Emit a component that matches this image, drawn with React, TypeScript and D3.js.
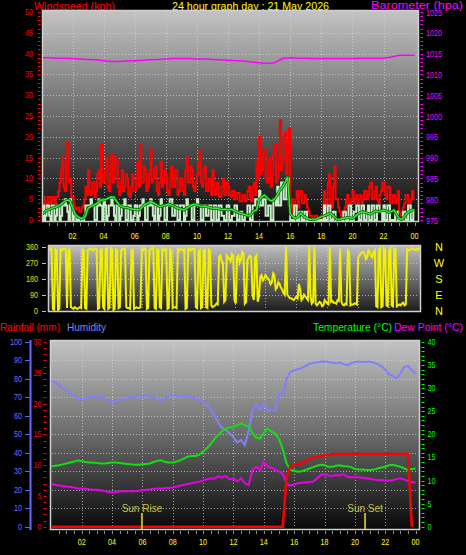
import React from 'react';
import * as d3 from 'd3';

// ---------- DATA ----------
const TITLE = '24 hour graph day : 21 May 2026';
const HOUR_LABELS = ['02', '04', '06', '08', '10', '12', '14', '16', '18', '20', '22', '00'];
const HOUR_LABEL_POS = [2, 4, 6, 8, 10, 12, 14, 16, 18, 20, 22, 24];

// wind gust (kph), 5-minute samples
const GUST = [
  4, 3.5, 5.5, 4, 3.5, 5.5, 5.5, 4, 5.5, 5.5, 4, 5.5,
  5.5, 7, 9, 12, 15, 8, 7, 14, 18.5, 9, 10, 5.5,
  5.5, 3, 2.5, 3, 3, 2, 2, 3, 3.5, 5, 8, 6,
  12, 7, 6, 9, 9, 5.5, 7, 11, 12, 8, 18, 9,
  9, 12, 15, 8, 7, 13, 16, 9, 10, 15, 14, 8,
  6, 9, 12, 7, 8, 11, 10, 6, 5.5, 8, 11, 7,
  7, 10, 14, 8, 18, 9, 9, 13, 12, 7, 8, 11,
  17, 9, 10, 12, 13, 7, 6, 9, 14, 8, 9, 12,
  11, 7, 6, 10, 13, 8, 8, 12, 12, 6, 7, 10,
  10, 7, 6, 12, 15, 9, 9, 13, 12, 8, 7, 9,
  11, 14, 16.5, 9, 8, 12, 13, 7, 7, 10, 10, 6,
  12, 8, 6, 9, 9, 5.5, 5.5, 8, 10, 6, 6, 9,
  8, 6, 5.5, 7, 7, 5, 5, 6.5, 6.5, 4.5, 4.5, 6,
  6, 4.5, 5, 7, 8, 5, 4.5, 8, 9, 6, 14, 10,
  20, 11, 12, 16, 17, 10, 9, 14, 15, 8, 11, 16,
  18, 9, 10, 15, 24, 12, 14, 20, 21, 11, 16, 22,
  3, 5, 1, 2, 5, 7, 3, 6, 7, 4, 4, 6,
  5, 3, 2, 1, 1, 0.5, 0.5, 1, 1, 0.5, 0.5, 0.5,
  1, 0.5, 7, 3, 4, 9, 11, 4, 3, 8, 13, 5,
  5, 3, 2, 1, 1, 2, 3, 5, 6, 4, 4, 5,
  7, 4, 5, 6, 4, 5, 6, 4, 5, 7, 7, 5,
  6, 8, 9, 5, 5, 7, 8, 5, 4, 6, 7, 9,
  9, 6, 5, 8, 8, 4, 4, 6, 6, 4, 5, 7,
  2, 1, 1, 3, 4, 6, 6, 3, 3, 5, 7, 5,
  5,
];

// wind speed (kph), 5-minute samples
const SPEED = [
  3, 3.5, 0, 1, 3.5, 3.5, 1, 0, 3.5, 3.5, 0, 1,
  3.5, 3.5, 0, 1, 3.5, 3.5, 5, 3.5, 2, 0, 5, 3.5,
  0, 1, 1, 0, 0, 0.5, 0.5, 0, 0, 1, 3.5, 3.5,
  3.5, 3.5, 5, 3.5, 3.5, 0, 0, 3.5, 5, 3.5, 3.5, 0,
  5, 3.5, 0, 1, 3.5, 3.5, 5, 3.5, 1, 0, 3.5, 3.5,
  0, 1, 3.5, 3.5, 5, 0, 0, 3.5, 3.5, 0, 0, 1,
  3.5, 3.5, 0, 1, 3.5, 3.5, 5, 3.5, 0, 0, 3.5, 3.5,
  5, 3.5, 1, 0, 3.5, 3.5, 0, 1, 5, 3.5, 3.5, 0,
  0, 3.5, 3.5, 5, 5, 1, 1, 3.5, 3.5, 0, 0, 3.5,
  3.5, 3.5, 0, 1, 5, 3.5, 3.5, 3.5, 0, 0, 3.5, 3.5,
  5, 3.5, 3.5, 0, 0, 3.5, 3.5, 1, 1, 3.5, 3.5, 0,
  0, 3.5, 3.5, 0, 0, 3.5, 3.5, 1, 1, 0, 0, 3.5,
  3.5, 0, 0, 1, 1, 3.5, 3.5, 0, 0, 2, 2, 0,
  0, 1, 1, 3.5, 3.5, 0, 0, 3.5, 3.5, 5, 5, 3.5,
  7, 3.5, 3.5, 5, 5, 1, 1, 3.5, 3.5, 0, 0, 5,
  5, 3.5, 8, 3.5, 3.5, 9, 9, 5, 5, 10, 10, 3.5,
  0, 0, 0, 3.5, 3.5, 0, 0, 2, 2, 0, 0, 2,
  2, 0, 0, 0, 0, 0, 0, 0, 0, 0, 0, 0,
  0, 0, 3.5, 0, 0, 3.5, 3.5, 0, 0, 2, 2, 0,
  0, 0, 0, 0, 0, 2, 2, 0, 0, 3.5, 3.5, 0,
  0, 2, 2, 3.5, 3.5, 0, 0, 3.5, 3.5, 0, 0, 2,
  3.5, 0, 0, 3.5, 3.5, 0, 0, 3.5, 3.5, 2, 2, 0,
  3.5, 0, 0, 3.5, 3.5, 0, 0, 0, 0, 2, 2, 0,
  0, 0, 0, 2, 2, 0, 0, 3.5, 3.5, 0, 0, 2,
  2,
];

// average wind speed (kph), 10-minute samples
const AVG = [
  1.2, 1.8, 2.3, 2.5, 2.8, 3.0,
  3.2, 3.5, 4.0, 4.5, 4.8, 4.6,
  3.0, 1.5, 0.8, 0.5, 0.4, 1.0,
  2.8, 3.2, 3.5, 3.8, 4.3, 4.8,
  4.8, 5.0, 5.3, 5.6, 5.5, 4.5,
  3.6, 3.2, 3.0, 3.0, 2.8, 2.6,
  2.6, 2.4, 2.5, 3.2, 3.8, 4.0,
  4.4, 4.2, 3.8, 3.4, 3.2, 3.5,
  3.6, 3.8, 3.6, 3.4, 3.0, 2.8,
  2.6, 2.4, 2.8, 3.2, 3.6, 3.8,
  3.6, 3.4, 3.2, 3.4, 3.2, 3.0,
  2.8, 2.9, 2.8, 2.6, 2.5, 2.6,
  2.4, 2.6, 2.4, 2.0, 1.8, 1.6,
  1.4, 1.2, 1.0, 1.4, 2.2, 2.4,
  4.8, 5.5, 6.0, 5.4, 4.8, 4.6,
  5.0, 6.0, 7.2, 7.8, 9.0, 10.4,
  1.6, 0.8, 0.4, 0.8, 1.6, 1.0,
  0.6, 0.3, 0.1, 0.1, 0.2, 0.5,
  0.8, 1.0, 1.2, 1.6, 1.4, 0.8,
  0.2, 0.0, 0.4, 0.4, 0.6, 0.5,
  0.4, 0.8, 1.4, 1.8, 2.0, 1.8,
  1.6, 1.4, 1.8, 2.2, 2.0, 2.2,
  2.4, 2.2, 1.8, 2.0, 2.4, 1.4,
  0.4, 0.1, 0.8, 1.6, 2.0, 2.4,
  2.4,
];

// barometer (hPa), 30-minute samples
const BARO = [
  1014.0, 1014.0, 1013.9, 1013.9, 1013.8, 1013.7, 1013.6, 1013.5,
  1013.3, 1013.1, 1013.1, 1013.2, 1013.3, 1013.4, 1013.5, 1013.6,
  1013.7, 1013.8, 1013.8, 1013.8, 1013.7, 1013.7, 1013.6, 1013.5,
  1013.4, 1013.3, 1013.2, 1013.0, 1012.8, 1012.6, 1012.8, 1013.8,
  1014.0, 1013.9, 1013.9, 1013.8, 1013.8, 1013.8, 1013.8, 1013.8,
  1013.8, 1013.9, 1013.9, 1013.9, 1013.9, 1014.2, 1014.6, 1014.6,
  1014.6,
];

// wind direction (degrees), 5-minute samples
const DIR = [
  340, 345, 350, 10, 5, 345, 340, 5, 10, 345, 340, 350,
  350, 345, 15, 340, 345, 20, 15, 10, 20, 15, 10, 15,
  20, 15, 345, 340, 15, 10, 340, 345, 350, 345, 340, 345,
  350, 345, 10, 15, 340, 345, 20, 10, 345, 350, 10, 15,
  350, 345, 5, 10, 345, 340, 15, 20, 340, 345, 350, 345,
  20, 15, 15, 10, 340, 345, 10, 15, 20, 15, 15, 20,
  345, 340, 350, 345, 10, 15, 340, 345, 355, 350, 15, 10,
  345, 340, 20, 15, 350, 345, 340, 345, 10, 15, 345, 340,
  15, 20, 20, 15, 345, 340, 350, 345, 340, 345, 10, 15,
  345, 350, 340, 345, 350, 345, 20, 15, 330, 340, 15, 20,
  340, 345, 20, 15, 345, 340, 30, 20, 25, 30, 40, 35,
  300, 310, 280, 270, 50, 60, 310, 300, 290, 280, 320, 310,
  60, 40, 300, 310, 270, 290, 330, 320, 40, 50, 280, 300,
  310, 300, 90, 60, 300, 310, 50, 80, 190, 200, 170, 180,
  200, 190, 180, 170, 150, 160, 210, 200, 120, 130, 160, 150,
  130, 120, 100, 90, 360, 90, 80, 70, 70, 65, 60, 70,
  80, 70, 150, 120, 60, 70, 90, 80, 70, 60, 360, 80,
  40, 50, 360, 40, 30, 40, 50, 45, 25, 30, 60, 50,
  40, 35, 360, 50, 55, 45, 45, 40, 60, 55, 350, 50,
  35, 30, 40, 35, 340, 330, 30, 35, 35, 40, 40, 35,
  300, 310, 320, 330, 330, 320, 290, 300, 340, 330, 310, 300,
  330, 340, 25, 20, 340, 350, 20, 25, 350, 340, 30, 25,
  340, 350, 30, 25, 350, 345, 25, 30, 35, 30, 40, 45,
  30, 35, 345, 340, 340, 350, 350, 345, 345, 340, 350, 345,
  350,
];

// humidity (%), 15-minute samples
const HUMIDITY = [
  79, 78, 76.5, 75, 74, 72.5, 71, 69.5,
  69.5, 69.3, 70, 70.5, 70.2, 70.4, 69.5, 68,
  67.7, 68.3, 68.8, 69, 69.5, 70, 70.4, 70.6,
  70.8, 71, 70.5, 70, 69, 68.6, 69.8, 70.8,
  71.3, 71, 70.6, 70.4, 70.5, 70, 69.6, 68.8,
  67.7, 66, 63.5, 60, 56.5, 53.5, 52.5, 50.5,
  48.5, 45.5, 47, 44.2, 52, 63, 66, 63.5,
  66.8, 62.5, 63.5, 62.8, 72, 71.5, 80, 84,
  84.6, 85.3, 86, 87, 88.2, 88.6, 89, 89.3,
  89.4, 89.3, 88.8, 88.5, 88.9, 88, 87.5, 88.5,
  89.2, 89.4, 89.2, 89.3, 89.3, 88.8, 88, 87,
  85, 82.5, 81.5, 80.3, 83, 86.5, 87, 84.5,
  83,
];

// temperature (°C), 15-minute samples
const TEMPERATURE = [
  13.1, 13.2, 13.3, 13.5, 13.7, 13.9, 14.1, 14.4,
  14.2, 14.0, 13.9, 13.9, 13.8, 13.7, 13.7, 13.8,
  13.9, 13.9, 13.8, 13.7, 13.6, 13.5, 13.4, 13.4,
  13.5, 13.6, 13.7, 14.0, 14.3, 14.4, 14.0, 13.9,
  13.9, 14.1, 14.4, 14.8, 15.2, 15.3, 15.3, 15.6,
  16.3, 17.0, 17.9, 19.0, 19.9, 20.6, 21.3, 21.5,
  21.6, 22.0, 22.4, 22.0, 21.7, 20.3, 19.3, 19.1,
  20.3, 21.3, 20.6, 20.2, 19.0, 16.8, 13.7, 12.3,
  12.1, 11.9, 12.0, 12.3, 12.6, 12.9, 13.2, 13.4,
  13.3, 13.0, 13.0, 13.2, 13.3, 13.1, 13.1, 12.9,
  12.5, 12.4, 12.4, 12.3, 12.3, 12.4, 12.6, 12.8,
  13.0, 13.3, 13.4, 13.2, 13.0, 12.6, 12.3, 12.5,
  12.6,
];

// dew point (°C), 15-minute samples
const DEWPOINT = [
  9.3, 9.1, 8.9, 8.8, 8.7, 8.6, 8.5, 8.3,
  8.3, 8.2, 8.1, 8.0, 8.0, 7.9, 7.7, 7.5,
  7.45, 7.5, 7.6, 7.7, 7.7, 7.7, 7.7, 7.8,
  7.9, 8.0, 8.1, 8.2, 8.3, 8.3, 8.4, 8.4,
  8.5, 8.7, 8.9, 9.1, 9.25, 9.4, 9.6, 9.75,
  10.0, 10.3, 10.5, 10.4, 10.9, 10.6, 11.0, 10.2,
  10.6, 9.8, 10.5, 9.4, 9.0, 12.3, 13.0, 12.2,
  14.1, 13.0, 12.8, 12.3, 12.0, 11.5, 9.3, 8.9,
  9.2, 9.4, 9.5, 9.6, 9.7, 9.8, 10.4, 11.2,
  11.4, 11.1, 11.0, 11.2, 11.1, 11.4, 10.8, 10.7,
  10.7, 10.7, 10.6, 10.5, 10.4, 10.2, 10.1, 10.1,
  10.0, 10.0, 10.1, 10.3, 10.5, 10.2, 9.9, 9.7,
  9.5,
];

// rainfall (mm, cumulative), 15-minute samples
const RAINFALL = [
  0, 0, 0, 0, 0, 0, 0, 0, 0, 0, 0, 0, 0, 0, 0, 0,
  0, 0, 0, 0, 0, 0, 0, 0, 0, 0, 0, 0, 0, 0, 0, 0,
  0, 0, 0, 0, 0, 0, 0, 0, 0, 0, 0, 0, 0, 0, 0, 0,
  0, 0, 0, 0, 0, 0, 0, 0, 0, 0, 0, 0, 0, 0, 8, 9.8,
  10.1, 10.2, 10.3, 10.6, 11.1, 11.2, 11.3, 11.4, 11.6, 11.7, 11.8, 11.8, 11.8, 11.8, 11.8, 11.8,
  11.8, 11.8, 11.8, 11.8, 11.8, 11.8, 11.8, 11.8, 11.8, 11.8, 11.8, 11.8, 11.8, 11.8, 11.8, 0,
];

const SUNRISE_HOUR = 5.97;
const SUNSET_HOUR = 20.67;

const WIND_TICKS = d3.range(0, 51, 5);
const BARO_TICKS = d3.range(975, 1026, 5);
const DIR_TICKS = [0, 90, 180, 270, 360];
const COMPASS = ['N', 'E', 'S', 'W', 'N'];
const HUM_TICKS = d3.range(0, 101, 10);
const RAIN_TICKS = d3.range(0, 31, 5);
const TEMP_TICKS = d3.range(0, 41, 5);

// ---------- CHART ----------
const SANS = "'Liberation Sans', Arial, sans-serif";

type NLProps = { x: number; y: number; anchor?: 'start' | 'middle' | 'end'; fill: string; children: React.ReactNode };
function NL({ x, y, anchor = 'start', fill, children }: NLProps) {
  return (
    <text transform={`translate(${x},${y}) scale(0.8,1)`} textAnchor={anchor} fill={fill} fontSize={9} fontFamily={SANS}>
      {children}
    </text>
  );
}

type HeadProps = { x: number; y: number; w: number; fill: string; size?: number; children: React.ReactNode };
function Head({ x, y, w, fill, size = 11, children }: HeadProps) {
  return (
    <text x={x} y={y} fill={fill} fontSize={size} fontFamily={SANS} textLength={w} lengthAdjust="spacingAndGlyphs">
      {children}
    </text>
  );
}

export default function App() {
  const W = 466;
  const H = 555;

  const topBox = { x: 42, y: 10, w: 377, h: 212 };
  const xTop = d3.scaleLinear().domain([0, 24]).range([41.4, 414.6]);
  const yWind = d3.scaleLinear().domain([0, 50]).range([220, 12]);
  const yBaro = d3.scaleLinear().domain([975, 1025]).range([220, 12]);

  const dirBox = { x: 48, y: 245, w: 373, h: 67 };
  const xDir = d3.scaleLinear().domain([0, 24]).range([49, 420]);
  const yDir = d3.scaleLinear().domain([0, 360]).range([310.7, 246.7]);

  const botBox = { x: 50, y: 340, w: 370, h: 190 };
  const xBot = d3.scaleLinear().domain([0, 24]).range([51.3, 415.6]);
  const yHum = d3.scaleLinear().domain([0, 100]).range([526.7, 342]);
  const yRain = d3.scaleLinear().domain([0, 30]).range([526.7, 342]);
  const yTemp = d3.scaleLinear().domain([0, 40]).range([526.7, 342]);

  const t5 = (i: number) => i / 12;
  const t10 = (i: number) => i / 6;
  const t15 = (i: number) => i / 4;
  const t30 = (i: number) => i / 2;

  const gustPath = d3.line<number>().x((_, i) => xTop(t5(i))).y((d) => yWind(d)).curve(d3.curveStepAfter)(GUST) || '';
  const speedPath = d3.line<number>().x((_, i) => xTop(t5(i))).y((d) => yWind(d)).curve(d3.curveStepAfter)(SPEED) || '';
  const avgPath = d3.line<number>().x((_, i) => xTop(t10(i))).y((d) => yWind(d))(AVG) || '';
  const baroPath = d3.line<number>().x((_, i) => xTop(t30(i))).y((d) => yBaro(d))(BARO) || '';
  const dirPath = d3.line<number>().x((_, i) => xDir(t5(i))).y((d) => yDir(d))(DIR) || '';
  const humPath = d3.line<number>().x((_, i) => xBot(t15(i))).y((d) => yHum(d))(HUMIDITY) || '';
  const tempPath = d3.line<number>().x((_, i) => xBot(t15(i))).y((d) => yTemp(d))(TEMPERATURE) || '';
  const dewPath = d3.line<number>().x((_, i) => xBot(t15(i))).y((d) => yTemp(d))(DEWPOINT) || '';
  const rainPath = d3.line<number>().x((_, i) => xBot(t15(i))).y((d) => yRain(d))(RAINFALL) || '';

  const halfHours = d3.range(0.5, 24.01, 0.5);
  const gridDash = '1 2';
  const gridColor = '#d8d8d8';
  const px = (v: number) => Math.round(v) + 0.5;

  const panelFrame = (b: { x: number; y: number; w: number; h: number }, fill: string) => (
    <g>
      <rect x={b.x} y={b.y} width={b.w} height={b.h} fill={fill} />
      <rect x={b.x + 0.5} y={b.y + 0.5} width={b.w - 1} height={b.h - 1} fill="none" stroke="#d0d0d0" strokeWidth={1.5} />
    </g>
  );

  return (
    <svg width={W} height={H} style={{ position: 'absolute', left: 0, top: 0, display: 'block' }} xmlns="http://www.w3.org/2000/svg">
      <defs>
        <linearGradient id="bgTop" x1="0" y1="0" x2="0" y2="1">
          <stop offset="0" stopColor="#c4c4c4" />
          <stop offset="0.5" stopColor="#6a6a6a" />
          <stop offset="1" stopColor="#0a0a0a" />
        </linearGradient>
        <linearGradient id="bgDir" x1="0" y1="0" x2="0" y2="1">
          <stop offset="0" stopColor="#c0c0c0" />
          <stop offset="1" stopColor="#1a1a1a" />
        </linearGradient>
        <linearGradient id="bgBot" x1="0" y1="0" x2="0" y2="1">
          <stop offset="0" stopColor="#c4c4c4" />
          <stop offset="0.5" stopColor="#6a6a6a" />
          <stop offset="1" stopColor="#080808" />
        </linearGradient>
        <clipPath id="clipTop"><rect x={topBox.x + 1} y={topBox.y + 1} width={topBox.w - 2} height={topBox.h - 2} /></clipPath>
        <clipPath id="clipDir"><rect x={dirBox.x + 1} y={dirBox.y + 1} width={dirBox.w - 2} height={dirBox.h - 2} /></clipPath>
        <clipPath id="clipBot"><rect x={botBox.x + 1} y={botBox.y + 1} width={botBox.w - 2} height={botBox.h - 2} /></clipPath>
      </defs>
      <rect x={0} y={0} width={W} height={H} fill="#000" />

      {/* ---------- titles ---------- */}
      <Head x={34} y={9.5} w={81} fill="#ff0000">Windspeed (kph)</Head>
      <Head x={172} y={9.5} w={157} fill="#ffff00">{TITLE}</Head>
      <Head x={371} y={8.5} w={92} size={10} fill="#ff00ff">Barometer (hpa)</Head>

      {/* ---------- top panel ---------- */}
      {panelFrame(topBox, 'url(#bgTop)')}
      <g stroke={gridColor} strokeDasharray={gridDash} strokeWidth={1} opacity={0.7}>
        {d3.range(5, 50, 5).map((v) => (
          <line key={'hg' + v} x1={topBox.x + 2} x2={topBox.x + topBox.w - 2} y1={px(yWind(v))} y2={px(yWind(v))} />
        ))}
        {HOUR_LABEL_POS.slice(0, -1).map((h) => (
          <line key={'vg' + h} x1={px(xTop(h))} x2={px(xTop(h))} y1={topBox.y + 2} y2={topBox.y + topBox.h - 2} />
        ))}
      </g>
      <g clipPath="url(#clipTop)" fill="none" strokeLinejoin="miter">
        <path d={gustPath} stroke="#ff0000" strokeWidth={2} />
        <path d={speedPath} stroke="#c8f0c8" strokeWidth={2} />
        <path d={avgPath} stroke="#006000" strokeWidth={3} />
        <path d={avgPath} stroke="#30f030" strokeWidth={1.5} />
        <path d={baroPath} stroke="#ff00ff" strokeWidth={1.5} />
      </g>
      <g stroke="#ff0000" strokeWidth={1}>
        {d3.range(0, 51, 1).map((v) => (
          <line key={'wt' + v} x1={38} x2={40.5} y1={px(yWind(v))} y2={px(yWind(v))} />
        ))}
      </g>
      {WIND_TICKS.map((v) => (
        <NL key={'wl' + v} x={33} y={yWind(v) + 3} anchor="end" fill="#ff0000">{v}</NL>
      ))}
      <g stroke="#ff00ff" strokeWidth={1}>
        {d3.range(975, 1026, 1).map((v) => (
          <line key={'bt' + v} x1={420.5} x2={423} y1={px(yBaro(v))} y2={px(yBaro(v))} />
        ))}
      </g>
      {BARO_TICKS.map((v) => (
        <NL key={'bl' + v} x={426} y={yBaro(v) + 3.5} fill="#ff00ff">{v}</NL>
      ))}
      <g stroke="#909090" strokeWidth={1}>
        {halfHours.map((h) => (
          <line key={'xt' + h} x1={px(xTop(h))} x2={px(xTop(h))} y1={223} y2={226} />
        ))}
      </g>
      {HOUR_LABELS.map((l, i) => (
        <NL key={'xl' + i} x={xTop(HOUR_LABEL_POS[i])} y={239} anchor="middle" fill="#ffff00">{l}</NL>
      ))}

      {/* ---------- direction panel ---------- */}
      {panelFrame(dirBox, 'url(#bgDir)')}
      <g stroke={gridColor} strokeDasharray={gridDash} strokeWidth={1} opacity={0.7}>
        {[90, 180, 270].map((v) => (
          <line key={'dg' + v} x1={dirBox.x + 2} x2={dirBox.x + dirBox.w - 2} y1={px(yDir(v))} y2={px(yDir(v))} />
        ))}
        {HOUR_LABEL_POS.slice(0, -1).map((h) => (
          <line key={'dv' + h} x1={px(xDir(h))} x2={px(xDir(h))} y1={dirBox.y + 2} y2={dirBox.y + dirBox.h - 2} />
        ))}
      </g>
      <g clipPath="url(#clipDir)">
        <path d={dirPath} fill="none" stroke="#f0f000" strokeWidth={2} />
      </g>
      <g stroke="#d8d800" strokeWidth={1}>
        {DIR_TICKS.map((v) => (
          <line key={'dt' + v} x1={42} x2={46} y1={px(yDir(v))} y2={px(yDir(v))} />
        ))}
      </g>
      {DIR_TICKS.map((v) => (
        <NL key={'dl' + v} x={38} y={yDir(v) + 3} anchor="end" fill="#e0e000">{v}</NL>
      ))}
      {DIR_TICKS.map((v, i) => (
        <text key={'cp' + v} x={439} y={yDir(v) + 4} fill="#ffff00" fontSize={11} fontFamily={SANS} textAnchor="middle">{COMPASS[i]}</text>
      ))}

      {/* ---------- bottom panel ---------- */}
      <Head x={0} y={331} w={60} fill="#ff0000">Rainfall (mm)</Head>
      <Head x={67} y={331} w={39} fill="#8080ff">Humidity</Head>
      <Head x={313} y={331} w={79} fill="#00ff00">Temperature (°C)</Head>
      <Head x={394} y={331} w={69} fill="#ff00ff">Dew Point (°C)</Head>

      {panelFrame(botBox, 'url(#bgBot)')}
      <g stroke={gridColor} strokeDasharray={gridDash} strokeWidth={1} opacity={0.7}>
        {d3.range(10, 100, 10).map((v) => (
          <line key={'bg' + v} x1={botBox.x + 2} x2={botBox.x + botBox.w - 2} y1={px(yHum(v))} y2={px(yHum(v))} />
        ))}
        {HOUR_LABEL_POS.slice(0, -1).map((h) => (
          <line key={'bv' + h} x1={px(xBot(h))} x2={px(xBot(h))} y1={botBox.y + 2} y2={botBox.y + botBox.h - 2} />
        ))}
      </g>
      <g clipPath="url(#clipBot)" fill="none">
        <path d={humPath} stroke="#8080ff" strokeWidth={2} />
        <path d={tempPath} stroke="#10e010" strokeWidth={2} />
        <path d={dewPath} stroke="#e800e8" strokeWidth={2} />
        <path d={rainPath} stroke="#ff0000" strokeWidth={2.5} />
      </g>
      {[{ h: SUNRISE_HOUR, l: 'Sun Rise' }, { h: SUNSET_HOUR, l: 'Sun Set' }].map((s) => (
        <g key={s.l}>
          <line x1={xBot(s.h)} x2={xBot(s.h)} y1={513} y2={529} stroke="#b8b030" strokeWidth={2} />
          <text x={xBot(s.h)} y={512} fill="#c8c040" fontSize={10} fontFamily={SANS} textAnchor="middle">{s.l}</text>
        </g>
      ))}
      <line x1={30.5} x2={30.5} y1={340} y2={530} stroke="#6868ff" strokeWidth={2} />
      <g stroke="#6868ff" strokeWidth={1}>
        {HUM_TICKS.map((v) => (
          <line key={'ht' + v} x1={25} x2={29.5} y1={px(yHum(v))} y2={px(yHum(v))} />
        ))}
      </g>
      {HUM_TICKS.map((v) => (
        <NL key={'hl' + v} x={22} y={yHum(v) + 3} anchor="end" fill="#7070ff">{v}</NL>
      ))}
      <g stroke="#ff0000" strokeWidth={1}>
        {d3.range(0, 31, 1).map((v) => (
          <line key={'rt' + v} x1={43.5} x2={46.5} y1={px(yRain(v))} y2={px(yRain(v))} />
        ))}
      </g>
      {RAIN_TICKS.map((v) => (
        <NL key={'rl' + v} x={41.5} y={yRain(v) + 3} anchor="end" fill="#ff0000">{v}</NL>
      ))}
      <g stroke="#00ff00" strokeWidth={1}>
        {d3.range(0, 41, 1).map((v) => (
          <line key={'tt' + v} x1={421.5} x2={424.5} y1={px(yTemp(v))} y2={px(yTemp(v))} />
        ))}
      </g>
      {TEMP_TICKS.map((v) => (
        <NL key={'tl' + v} x={427.5} y={yTemp(v) + 3} fill="#00ff00">{v}</NL>
      ))}
      <g stroke="#909090" strokeWidth={1}>
        {halfHours.map((h) => (
          <line key={'bxt' + h} x1={px(xBot(h))} x2={px(xBot(h))} y1={531} y2={534} />
        ))}
      </g>
      {HOUR_LABELS.map((l, i) => (
        <NL key={'bxl' + i} x={xBot(HOUR_LABEL_POS[i])} y={545} anchor="middle" fill="#ffff00">{l}</NL>
      ))}
    </svg>
  );
}
